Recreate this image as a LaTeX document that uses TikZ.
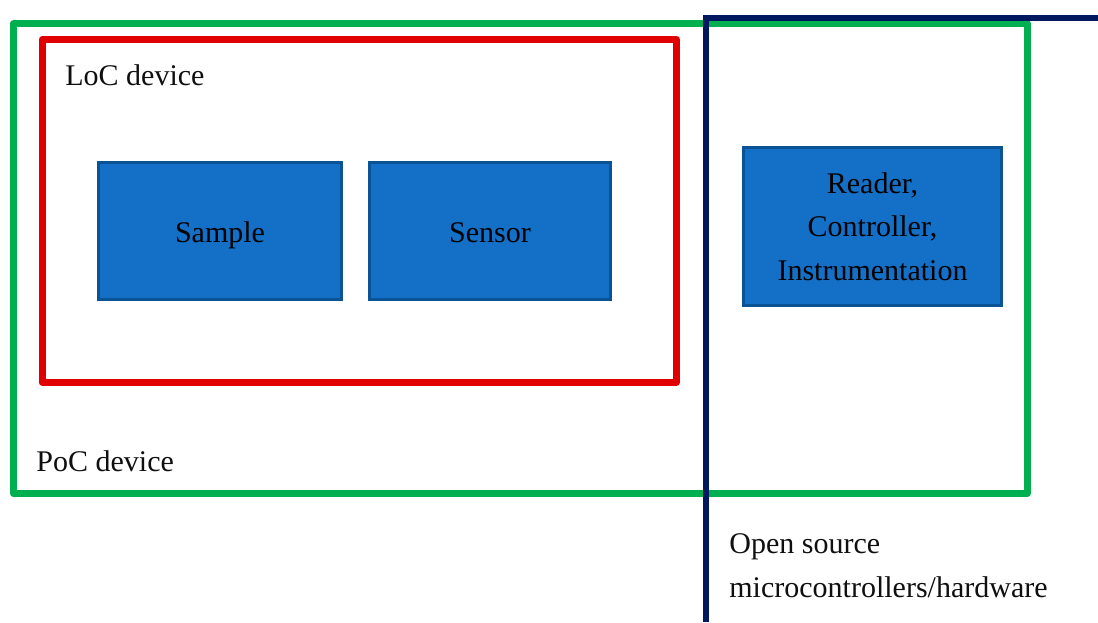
\documentclass[tikz,border=0pt]{standalone}
\usepackage{fontspec}
\setmainfont{Liberation Serif}
\definecolor{boxfill}{RGB}{20,111,198}
\definecolor{boxedge}{RGB}{10,84,150}
\definecolor{pocgreen}{RGB}{0,176,80}
\definecolor{locred}{RGB}{224,0,0}
\definecolor{navyline}{RGB}{0,24,96}
\definecolor{textdark}{RGB}{15,15,15}
\begin{document}
\begin{tikzpicture}[x=0.5pt,y=-0.5pt,
  frame/.style={line width=3.5pt, line join=round},
  block/.style={draw=boxedge, fill=boxfill, line width=1.5pt, inner sep=0pt,
    align=center, text=black, font=\fontsize{15}{21.75}\selectfont},
  lbl/.style={anchor=base west, inner sep=0pt, text=textdark, font=\fontsize{15}{15}\selectfont}]
\useasboundingbox (0,0) rectangle (1098,622);
% frames
\draw[frame, pocgreen] (13.5,23.5) rectangle (1027,493.5);
\draw[frame, locred] (42,39.5) rectangle (676.5,382);
% blocks
\node[block, minimum width=121.5pt, minimum height=68.5pt, text height=12pt, text depth=1pt] (sample) at (220,231) {Sample};
\node[block, minimum width=120.5pt, minimum height=68.5pt, text height=12pt, text depth=1pt] (sensor) at (490,231) {Sensor};
\node[block, minimum width=129pt, minimum height=79pt] (reader) at (872.5,226.5) {Reader,\\Controller,\\Instrumentation};
% labels
\node[lbl] (loc) at (65,85) {LoC device};
\node[lbl] (poc) at (36,471) {PoC device};
\node[lbl] (os1) at (729,553) {Open source};
\node[lbl] (os2) at (729,597) {microcontrollers/hardware};
% navy boundary
\coordinate (n1) at (1098,17.5);
\coordinate (n2) at (705.5,17.5);
\coordinate (n3) at (705.5,622);
\draw[navyline, line width=3pt] (n1) -- (n2) -- (n3);
\end{tikzpicture}
\end{document}
